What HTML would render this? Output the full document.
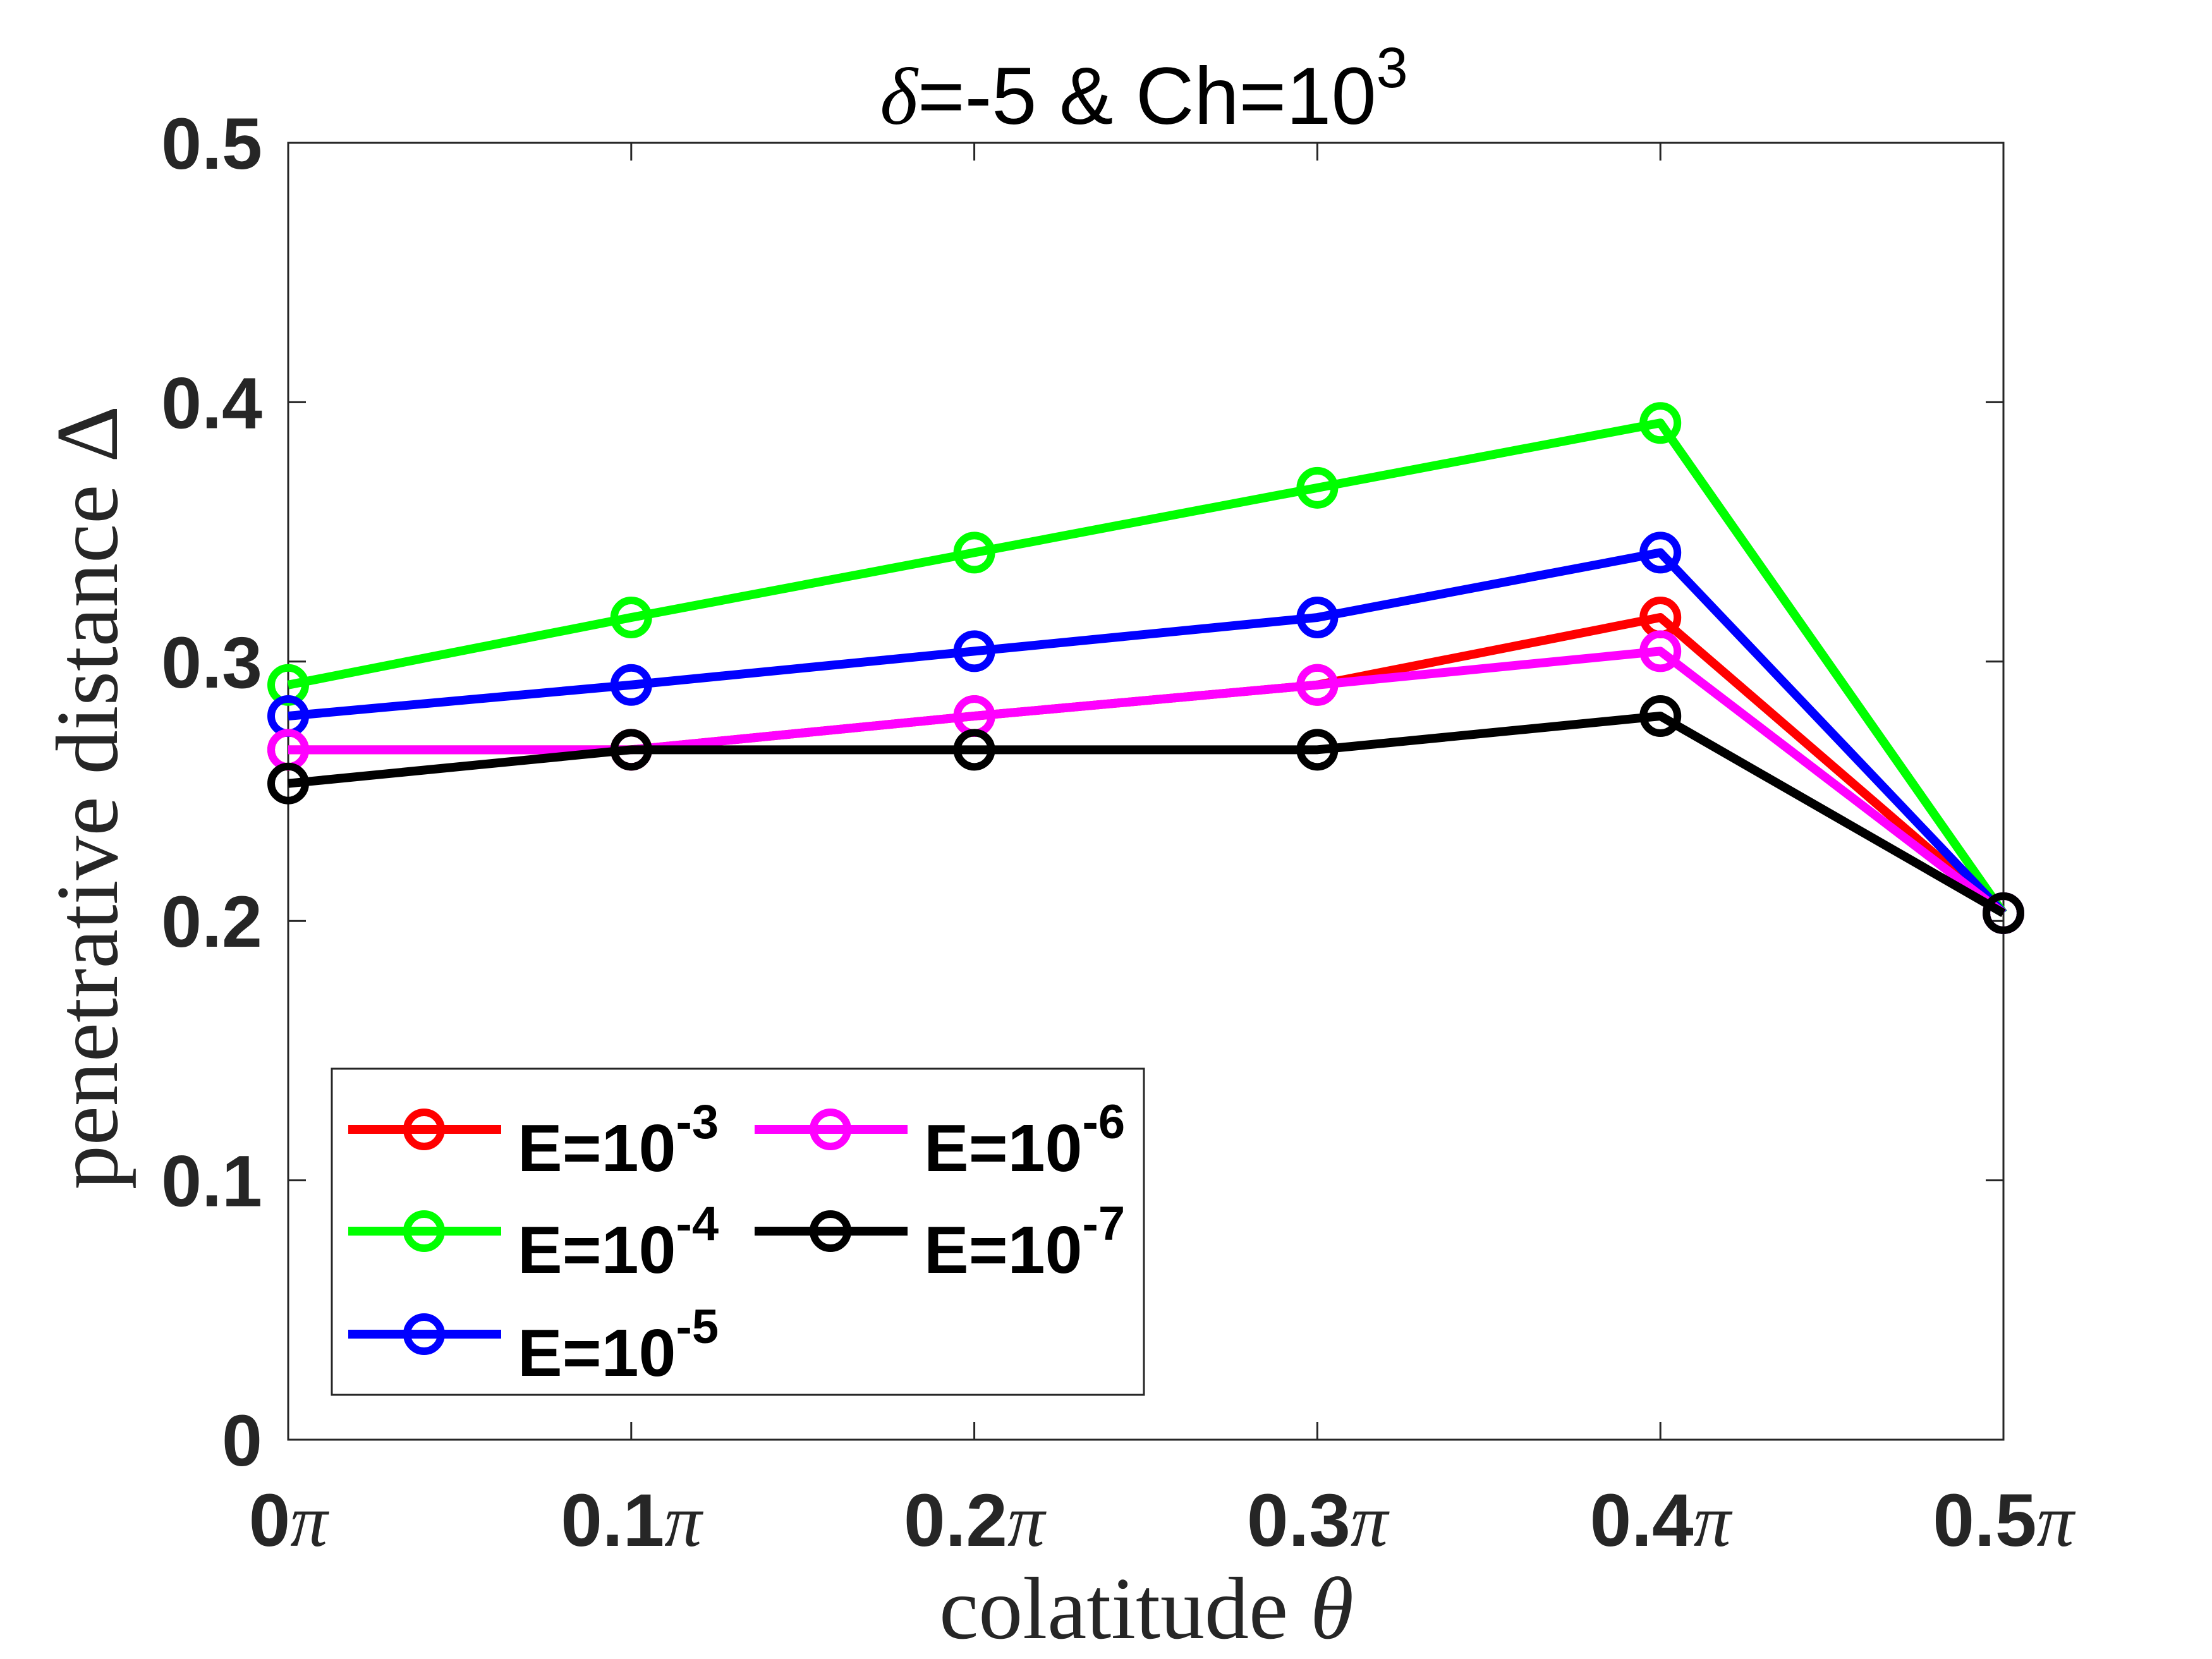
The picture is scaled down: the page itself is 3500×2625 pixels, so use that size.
<!DOCTYPE html>
<html><head><meta charset="utf-8"><style>
html,body{margin:0;padding:0;background:#fff;}
svg{display:block;}
</style></head><body>
<svg id="chart" width="3500" height="2625" viewBox="0 0 3500 2625" xmlns="http://www.w3.org/2000/svg">
<rect width="3500" height="2625" fill="#fff"/>
<g id="axes"></g>
<g id="series"></g>
<g id="legend"></g>
</svg>
<script>
const categories = [0, 0.1, 0.2, 0.3, 0.4, 0.5];
const xTickLabels = ["0", "0.1", "0.2", "0.3", "0.4", "0.5"];
const yTicks = [0, 0.1, 0.2, 0.3, 0.4, 0.5];
const yTickLabels = ["0", "0.1", "0.2", "0.3", "0.4", "0.5"];
const seriesE3 = [0.266, 0.266, 0.279, 0.291, 0.317, 0.203];
const seriesE4 = [0.291, 0.317, 0.342, 0.367, 0.392, 0.203];
const seriesE5 = [0.279, 0.291, 0.304, 0.317, 0.342, 0.203];
const seriesE6 = [0.266, 0.266, 0.279, 0.291, 0.304, 0.203];
const seriesE7 = [0.253, 0.266, 0.266, 0.266, 0.279, 0.203];
const seriesNames = ["-3", "-4", "-5", "-6", "-7"];
const seriesColors = ["#ff0000", "#00ff00", "#0000ff", "#ff00ff", "#000000"];

const NS = "http://www.w3.org/2000/svg";
const L = 456, R = 3170, T = 226, B = 2278;
function xs(v){ return L + (v - 0) / 0.5 * (R - L); }
function ys(v){ return B - (v - 0) / 0.5 * (B - T); }
function mk(tag, attrs, parent){ const e = document.createElementNS(NS, tag); for (const k in attrs) e.setAttribute(k, attrs[k]); parent.appendChild(e); return e; }

const axes = document.getElementById('axes');
const box = mk('rect', {x:L, y:T, width:R-L, height:B-T, fill:'none', stroke:'#262626', 'stroke-width':3}, axes);



categories.forEach((c, i) => {
  const x = xs(c);
  mk('line', {x1:x, y1:B, x2:x, y2:B-28, stroke:'#262626', 'stroke-width':3}, axes);
  mk('line', {x1:x, y1:T, x2:x, y2:T+28, stroke:'#262626', 'stroke-width':3}, axes);
  const t = mk('text', {x:x, y:2446, 'text-anchor':'middle', 'font-family':'Liberation Sans, sans-serif', 'font-weight':'bold', 'font-size':118, fill:'#262626'}, axes);
  
  
  t.textContent = xTickLabels[i];
  const p = mk('tspan', {'font-family':'Liberation Serif, serif', 'font-style':'italic', 'font-weight':'normal'}, t);
  p.textContent = 'π';
});
yTicks.forEach((v, i) => {
  const y = ys(v);
  mk('line', {x1:L, y1:y, x2:L+28, y2:y, stroke:'#262626', 'stroke-width':3}, axes);
  mk('line', {x1:R, y1:y, x2:R-28, y2:y, stroke:'#262626', 'stroke-width':3}, axes);
  const t = mk('text', {x:415, y:y+41, 'text-anchor':'end', 'font-family':'Liberation Sans, sans-serif', 'font-weight':'bold', 'font-size':115, fill:'#262626'}, axes);
  
  
  t.textContent = yTickLabels[i];
});

const title = mk('text', {x:1810, y:196, 'text-anchor':'middle', 'font-family':'Liberation Sans, sans-serif', 'font-size':128, fill:'#000'}, axes);


title.innerHTML = '<tspan font-family="Liberation Serif, serif" font-style="italic">δ</tspan>=-5 &amp; Ch=10<tspan font-size="90" dy="-58">3</tspan>';

const xl = mk('text', {x:1814, y:2592, 'text-anchor':'middle', 'font-family':'Liberation Serif, serif', 'font-size':140, fill:'#262626'}, axes);


xl.innerHTML = 'colatitude <tspan font-style="italic">θ</tspan>';

const yl = mk('text', {x:0, y:0, 'text-anchor':'middle', 'font-family':'Liberation Serif, serif', 'font-size':140, fill:'#262626', transform:'translate(185,1262) rotate(-90)'}, axes);


yl.textContent = 'penetrative distance Δ';

const allSeries = [seriesE3, seriesE4, seriesE5, seriesE6, seriesE7];
const sg = document.getElementById('series');
allSeries.forEach((s, si) => {
  const g = mk('g', {}, sg);
  
  
  const pts = s.map((v, i) => xs(categories[i]) + ',' + ys(v)).join(' ');
  const pl = mk('polyline', {points:pts, fill:'none', stroke:seriesColors[si], 'stroke-width':14, 'stroke-linejoin':'round'}, g);
  
  
  s.forEach((v, i) => {
    const c = mk('circle', {cx:xs(categories[i]), cy:ys(v), r:27, fill:'none', stroke:seriesColors[si], 'stroke-width':12}, g);
    
    
  });
});

const lg = document.getElementById('legend');
const lb = mk('rect', {x:525, y:1691, width:1285, height:516, fill:'#fff', stroke:'#262626', 'stroke-width':3}, lg);


const legPos = [[551, 1787], [551, 1948], [551, 2111], [1194, 1787], [1194, 1948]];
seriesNames.forEach((n, i) => {
  const [x, y] = legPos[i];
  const g = mk('g', {}, lg);
  
  
  mk('line', {x1:x, y1:y, x2:x+242, y2:y, stroke:seriesColors[i], 'stroke-width':14}, g);
  mk('circle', {cx:x+120, cy:y, r:27, fill:'none', stroke:seriesColors[i], 'stroke-width':12}, g);
  const t = mk('text', {x:x+268, y:y+66, 'font-family':'Liberation Sans, sans-serif', 'font-weight':'bold', 'font-size':106, fill:'#000'}, g);
  t.innerHTML = 'E=10<tspan font-size="76" dy="-52">' + n + '</tspan>';
});
</script>
</body></html>
